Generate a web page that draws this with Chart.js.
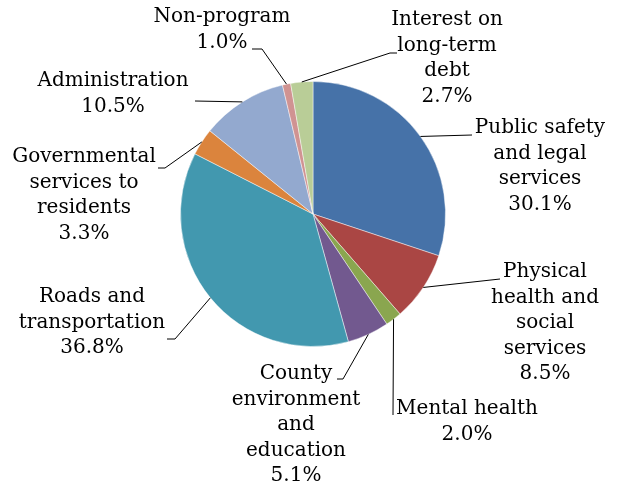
<!DOCTYPE html>
<html>
<head>
<meta charset="utf-8">
<script src="https://cdn.jsdelivr.net/npm/chart.js@4"></script>
<style>
  html, body { margin: 0; padding: 0; background: #fff; }
  #pieChart { display: block; }
</style>
</head>
<body>
<canvas id="pieChart" width="619" height="484"></canvas>
<script>
const categories = [
    ['Public safety', 'and legal', 'services'],
    ['Physical', 'health and', 'social', 'services'],
    ['Mental health'],
    ['County', 'environment', 'and', 'education'],
    ['Roads and', 'transportation'],
    ['Governmental', 'services to', 'residents'],
    ['Administration'],
    ['Non-program'],
    ['Interest on', 'long-term', 'debt']
];
const shares = [30.1, 8.5, 2.0, 5.1, 36.8, 3.3, 10.5, 1.0, 2.7];
const colors = ['#4672A8', '#AA4644', '#8AA64F', '#72598F', '#4298AF', '#DB843D', '#93A9CF', '#D09392', '#B9CD97'];

// label placement: text centre x, first line centre y, leader elbow, tail end x
const labelLayout = [
    { x: 540, y: 128, ex: 472, ey: 135, tx: 472 },
    { x: 545, y: 272, ex: 500, ey: 279, tx: 500 },
    { x: 467, y: 409, ex: 393, ey: 415, tx: 393 },
    { x: 296, y: 374, ex: 343, ey: 379, tx: 337 },
    { x: 92,  y: 297, ex: 175, ey: 339, tx: 167 },
    { x: 84,  y: 157, ex: 165, ey: 168, tx: 158 },
    { x: 113, y: 81,  ex: 195, ey: 101, tx: 195 },
    { x: 222, y: 17,  ex: 262, ey: 49,  tx: 252 },
    { x: 447, y: 20,  ex: 390, ey: 53,  tx: 397 }
];

const fontFamily = '"DejaVu Serif", serif';
const fontSize = 20;
const lineHeight = 25.5;

const outsideLabels = {
    id: 'outsideLabels',
    afterDraw(chart) {
        const ctx = chart.ctx;
        const arcs = chart.getDatasetMeta(0).data;
        ctx.save();
        ctx.strokeStyle = '#000';
        ctx.lineWidth = 1;
        arcs.forEach((arc, i) => {
            const p = arc.getProps(['x', 'y', 'startAngle', 'endAngle', 'outerRadius'], true);
            const mid = (p.startAngle + p.endAngle) / 2;
            const sx = p.x + Math.cos(mid) * p.outerRadius;
            const sy = p.y + Math.sin(mid) * p.outerRadius;
            const L = labelLayout[i];
            ctx.beginPath();
            ctx.moveTo(sx, sy);
            ctx.lineTo(L.ex, L.ey);
            ctx.lineTo(L.tx, L.ey);
            ctx.stroke();

            ctx.fillStyle = '#000';
            ctx.font = fontSize + 'px ' + fontFamily;
            ctx.textAlign = 'center';
            ctx.textBaseline = 'middle';
            const lines = categories[i].concat([shares[i].toFixed(1) + '%']);
            lines.forEach((t, k) => ctx.fillText(t, L.x, L.y + k * lineHeight));
        });
        ctx.restore();
    }
};

const ctxPie = document.getElementById('pieChart').getContext('2d');
const pieChart = new Chart(ctxPie, {
    type: 'pie',
    data: {
        labels: categories.map(c => c.join(' ')),
        datasets: [{
            data: shares,
            backgroundColor: colors,
            borderColor: 'rgba(255,255,255,0.45)',
            borderWidth: 1
        }]
    },
    options: {
        responsive: false,
        animation: false,
        layout: {
            padding: { left: 180, right: 173, top: 81, bottom: 137 }
        },
        plugins: {
            legend: { display: false },
            tooltip: { enabled: false }
        }
    },
    plugins: [outsideLabels]
});
</script>
</body>
</html>
